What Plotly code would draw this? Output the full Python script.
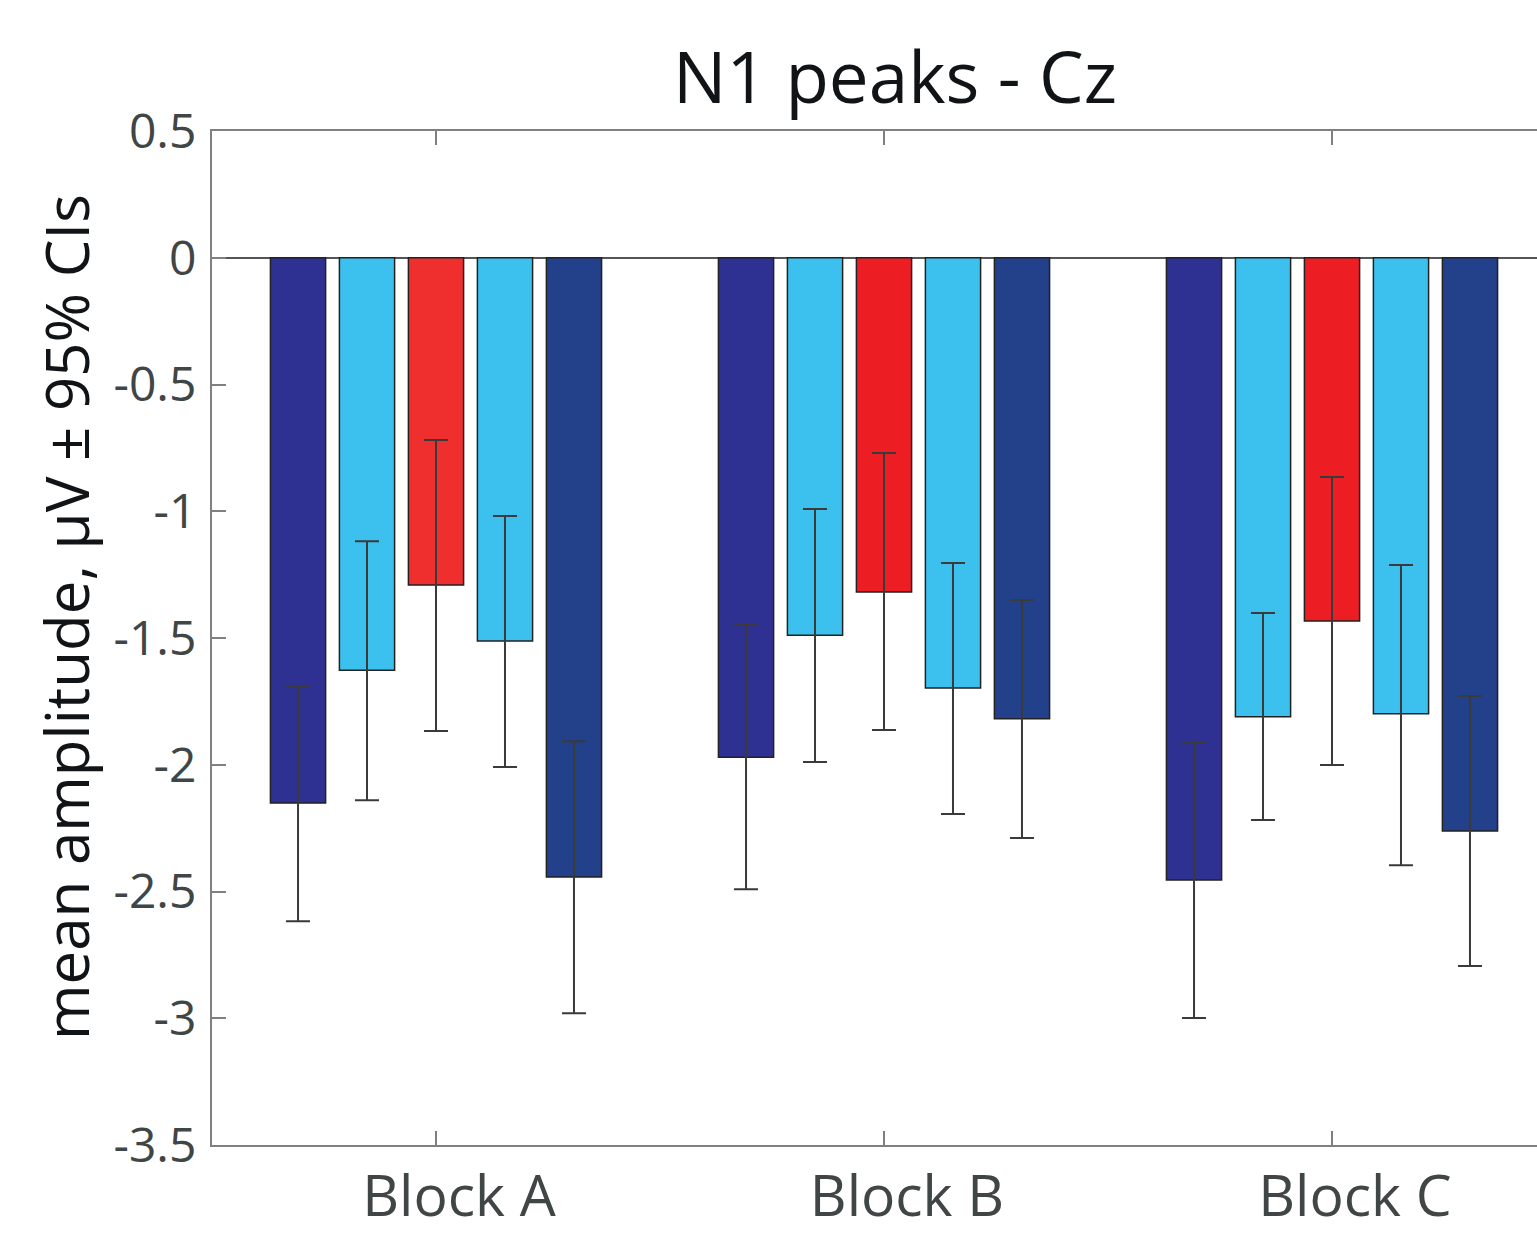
import plotly.graph_objects as go

# Blocks on the x axis
blocks = ["Block A", "Block B", "Block C"]
block_pos = [1, 2, 3]

# Mean N1 amplitude (µV) per condition, one list per bar series
mean_c1 = [-2.151, -1.970, -2.455]
mean_c2 = [-1.627, -1.489, -1.811]
mean_c3 = [-1.291, -1.319, -1.433]
mean_c4 = [-1.512, -1.697, -1.799]
mean_c5 = [-2.443, -1.819, -2.261]

# Upper / lower 95% confidence limits
ci_hi_c1 = [-1.693, -1.445, -1.910]
ci_lo_c1 = [-2.617, -2.491, -2.999]
ci_hi_c2 = [-1.118, -0.991, -1.401]
ci_lo_c2 = [-2.140, -1.989, -2.218]
ci_hi_c3 = [-0.719, -0.770, -0.865]
ci_lo_c3 = [-1.867, -1.863, -2.001]
ci_hi_c4 = [-1.019, -1.204, -1.212]
ci_lo_c4 = [-2.009, -2.194, -2.396]
ci_hi_c5 = [-1.907, -1.350, -1.729]
ci_lo_c5 = [-2.980, -2.289, -2.794]

# y axis ticks
y_tickvals = [0.5, 0, -0.5, -1, -1.5, -2, -2.5, -3, -3.5]
y_ticktext = ["0.5", "0", "-0.5", "-1", "-1.5", "-2", "-2.5", "-3", "-3.5"]

series = [
    ("Condition 1", mean_c1, ci_hi_c1, ci_lo_c1, "#2E3192"),
    ("Condition 2", mean_c2, ci_hi_c2, ci_lo_c2, "#3CC1EF"),
    ("Condition 3", mean_c3, ci_hi_c3, ci_lo_c3, ["#EF2E2E", "#ED1D24", "#ED1D24"]),
    ("Condition 4", mean_c4, ci_hi_c4, ci_lo_c4, "#3CC1EF"),
    ("Condition 5", mean_c5, ci_hi_c5, ci_lo_c5, "#23418A"),
]

FONT = "Open Sans"

fig = go.Figure()
for name, m, hi, lo, col in series:
    fig.add_trace(go.Bar(
        name=name,
        x=block_pos,
        y=m,
        marker=dict(color=col, line=dict(color="#222222", width=1.5)),
        error_y=dict(
            type="data", symmetric=False,
            array=[h - v for h, v in zip(hi, m)],
            arrayminus=[v - l for v, l in zip(m, lo)],
            color="#3a3a3a", thickness=2, width=12,
        ),
    ))

fig.update_layout(
    width=1537, height=1233,
    margin=dict(l=212, r=0, t=131, b=88),
    paper_bgcolor="white", plot_bgcolor="white",
    barmode="group", bargap=0.23, bargroupgap=0.2,
    showlegend=False,
    title=dict(
        text="N1 peaks - Cz",
        font=dict(family=FONT, size=71, color="#111416"),
        x=895 / 1537, xanchor="center", xref="container",
        y=1 - 78 / 1233, yanchor="middle", yref="container",
    ),
)

# rotated y-axis label, set slightly above the axis middle
fig.add_annotation(
    text="mean amplitude, µV ± 95% CIs",
    textangle=-90,
    font=dict(family=FONT, size=60, color="#111416"),
    xref="paper", yref="paper",
    x=(66 - 212) / 1325, y=(1145 - 617) / 1014,
    xanchor="center", yanchor="middle",
    showarrow=False,
)

fig.update_xaxes(
    range=[0.5, 0.5 + (1537 - 212) / 448],
    tickvals=block_pos, ticktext=blocks,
    ticks="inside", ticklen=14, tickwidth=2, tickcolor="#808080",
    showline=True, linecolor="#808080", linewidth=2, mirror="ticks",
    tickfont=dict(family=FONT, size=57, color="#404545"),
    ticklabelshift=23, ticklabelstandoff=1,
    showgrid=False, zeroline=False, automargin=False,
)
fig.update_yaxes(
    range=[-3.5, 0.5],
    tickvals=y_tickvals, ticktext=y_ticktext,
    ticks="inside", ticklen=14, tickwidth=2, tickcolor="#808080",
    showline=True, linecolor="#808080", linewidth=2, mirror=False,
    tickfont=dict(family=FONT, size=48, color="#404545"),
    ticklabelstandoff=4,
    showgrid=False,
    zeroline=True, zerolinecolor="#555555", zerolinewidth=1.5,
    automargin=False,
)

fig.write_html("out.html")
